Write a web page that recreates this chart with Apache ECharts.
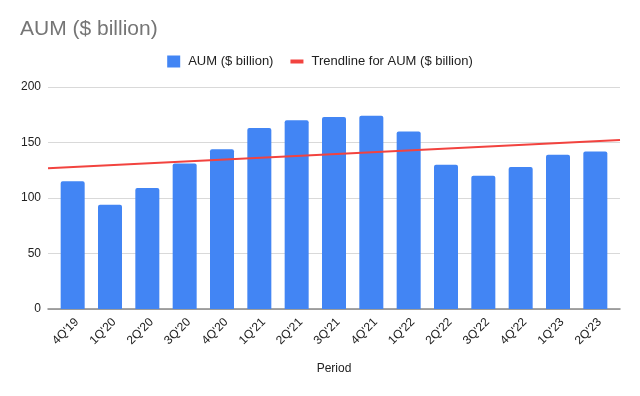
<!DOCTYPE html>
<html><head><meta charset="utf-8">
<script src="https://cdn.jsdelivr.net/npm/echarts@6/dist/echarts.min.js"></script>
<style>html,body{margin:0;padding:0;background:#fff}#c{width:640px;height:396px}</style>
</head><body><div id="c"></div>
<script>
const categories = ["4Q'19","1Q'20","2Q'20","3Q'20","4Q'20","1Q'21","2Q'21","3Q'21","4Q'21","1Q'22","2Q'22","3Q'22","4Q'22","1Q'23","2Q'23"];
const aumValues = [115, 94, 109, 131, 144, 163, 170, 173, 174, 160, 130, 120, 128, 139, 142];
const yTicks = [0, 50, 100, 150, 200];

// linear least-squares trendline of the AUM series
const n = aumValues.length;
const xm = (n - 1) / 2;
const ym = aumValues.reduce((a, b) => a + b, 0) / n;
let sxy = 0, sxx = 0;
aumValues.forEach((v, i) => { sxy += (i - xm) * (v - ym); sxx += (i - xm) * (i - xm); });
const slope = sxy / sxx;

// layout: outer plot (gridlines, trendline) and inner band for the bars
const W = 640, outerL = 48, outerR = 20, innerL = 54, innerR = 26;
const catW = (W - innerL - innerR) / n;
const xMin = -0.5 - (innerL - outerL) / catW;
const xMax = n - 0.5 + (innerR - outerR) / catW;
const trend = [xMin, xMax].map(x => [x, ym + slope * (x - xm)]);

const font = 'Liberation Sans, Arial, sans-serif';
const chart = echarts.init(document.getElementById('c'), null, {renderer: 'canvas'});
chart.setOption({
  animation: false,
  title: {text: 'AUM ($ billion)', left: 20, top: 19, padding: 0,
    textStyle: {fontFamily: font, fontSize: 21, fontWeight: 'normal', color: '#757575'}},
  legend: {
    top: 55, left: 'center', itemWidth: 13, itemHeight: 12, itemGap: 17,
    symbolKeepAspect: true, padding: 0,
    textStyle: {fontFamily: font, fontSize: 13, color: '#222', padding: [0, 0, 0, 3]},
    data: [{name: 'AUM ($ billion)', icon: 'rect'},
           {name: 'Trendline for AUM ($ billion)', icon: 'path://M0 0 L13 0 L13 4 L0 4 Z'}]
  },
  grid: [
    {left: outerL, right: outerR, top: 87, bottom: 87, containLabel: false},
    {left: innerL, right: innerR, top: 87, bottom: 87, containLabel: false}
  ],
  xAxis: [{
    gridIndex: 0, type: 'value', min: xMin, max: xMax,
    axisLine: {show: true, lineStyle: {color: '#888', width: 1.5}},
    axisTick: {show: false}, axisLabel: {show: false}, splitLine: {show: false}
  }, {
    gridIndex: 1, type: 'category', data: categories,
    axisLine: {show: false}, axisTick: {show: false},
    axisLabel: {rotate: 45, fontFamily: font, fontSize: 12, color: '#222', margin: 7,
      interval: 0, verticalAlign: 'top'},
    name: 'Period', nameLocation: 'middle', nameGap: 54,
    nameTextStyle: {fontFamily: font, fontSize: 12, color: '#222'}
  }],
  yAxis: [{
    gridIndex: 0, type: 'value', min: yTicks[0], max: yTicks[yTicks.length - 1], interval: 50,
    axisLine: {show: false}, axisTick: {show: false},
    axisLabel: {fontFamily: font, fontSize: 12, color: '#222', margin: 7},
    splitLine: {lineStyle: {color: '#d9d9d9', width: 1}}
  }, {
    gridIndex: 1, type: 'value', min: yTicks[0], max: yTicks[yTicks.length - 1], interval: 50,
    show: false, splitLine: {show: false}
  }],
  series: [{
    name: 'AUM ($ billion)', type: 'bar', xAxisIndex: 1, yAxisIndex: 1,
    data: aumValues, barWidth: 24,
    itemStyle: {color: '#4285f4', borderRadius: [2, 2, 0, 0]}
  }, {
    name: 'Trendline for AUM ($ billion)', type: 'line', xAxisIndex: 0, yAxisIndex: 0, data: trend,
    symbol: 'none', lineStyle: {color: '#f2433f', width: 2}, itemStyle: {color: '#f2433f'}, z: 5
  }]
});
</script></body></html>
